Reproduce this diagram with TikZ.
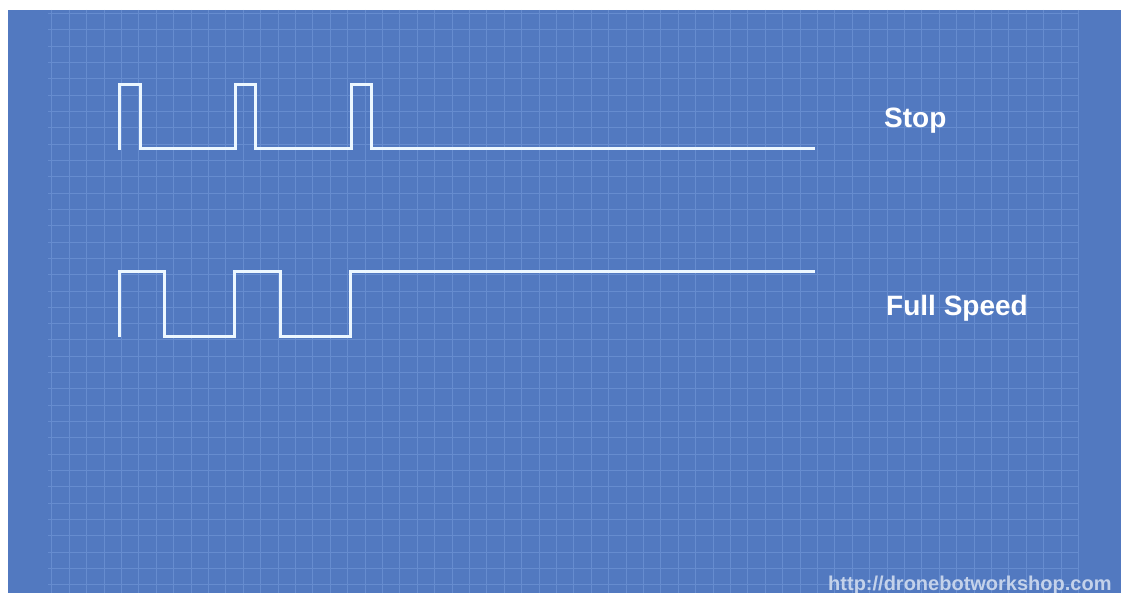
\documentclass[tikz,border=0pt]{standalone}
\usepackage{fontspec}
\setmainfont{Liberation Sans}
\definecolor{bgblue}{RGB}{82,121,192}
\definecolor{gridc}{RGB}{102,140,207}
\definecolor{wave}{RGB}{236,247,255}
\definecolor{urlc}{RGB}{196,210,234}
\tikzset{
  gridline/.style={draw=gridc, line width=0.8pt},
  signal/.style={draw=wave, line width=3pt, line join=miter},
  lbl/.style={text=white, anchor=base west, inner sep=0pt, font=\fontsize{28}{33}\selectfont\bfseries},
  url/.style={text=urlc, anchor=base west, inner sep=0pt, font=\fontsize{20}{24}\selectfont\bfseries}
}
\begin{document}
\begin{tikzpicture}[x=1pt,y=-1pt]
\useasboundingbox (0,0) rectangle (1121,593);
\fill[white] (0,0) rectangle (1121,593);
\fill[bgblue] (8,10) rectangle (1121,593);
\foreach \i in {0,...,59} \draw[gridline] ({51.7+17.4*\i},10) -- ({51.7+17.4*\i},593);
\foreach \j in {0,...,35} \draw[gridline] (48,{13.3+16.33*\j}) -- (1078,{13.3+16.33*\j});
% Stop waveform
\draw[signal] (119,150) -- (119,85) -- (140,85) -- (140,149) -- (235,149) -- (235,85) -- (255,85) -- (255,149) -- (351,149) -- (351,85) -- (371,85) -- (371,149) -- (815,149);
% Full speed waveform
\draw[signal] (119,337) -- (119,272) -- (164,272) -- (164,337) -- (234,337) -- (234,272) -- (280,272) -- (280,337) -- (350,337) -- (350,272) -- (815,272);
\node[lbl] (stop) at (884,127.5) {Stop};
\node[lbl] (full) at (886,315.5) {Full Speed};
\node[url] (site) at (828,590) {http://dronebotworkshop.com};
\end{tikzpicture}
\end{document}
